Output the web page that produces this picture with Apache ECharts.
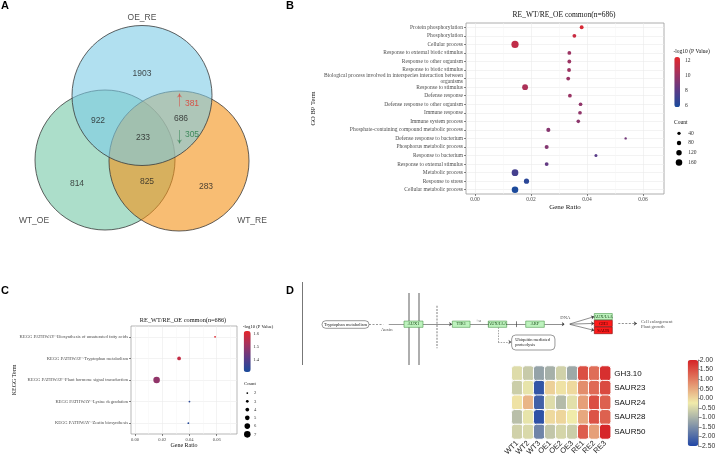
<!DOCTYPE html>
<html><head><meta charset="utf-8">
<script src="https://cdn.jsdelivr.net/npm/echarts@6/dist/echarts.min.js"></script>
<style>html,body{margin:0;padding:0;background:#fff}#c{width:717px;height:458px}</style>
</head><body><div id="c"></div>
<script>
// ================= DATA =================
// Panel A (Venn)
const vennSetNames = ['WT_OE', 'WT_RE', 'OE_RE'];
const vennRegionCounts = [1903, 922, 233, 686, 814, 825, 283];
const vennUpDown = [381, 305];

// Panel B (GO BP)
const goTitle = 'RE_WT/RE_OE common(n=686)';
const goTerms = ['Protein phosphorylation','Phosphorylation','Cellular process','Response to external biotic stimulus','Response to other organism','Response to biotic stimulus','Biological process involved in interspecies interaction between organisms','Response to stimulus','Defense response','Defense response to other organism','Immune response','Immune system process','Phosphate-containing compound metabolic process','Defense response to bacterium','Phosphorus metabolic process','Response to bacterium','Response to external stimulus','Metabolic process','Response to stress','Cellular metabolic process'];
const goGeneRatio = [0.0381,0.0355,0.0143,0.0337,0.0337,0.0336,0.0333,0.0179,0.0339,0.0377,0.0375,0.0369,0.0262,0.0538,0.0256,0.0432,0.0256,0.0143,0.0184,0.0143];
const goCount = [62,58,185,60,60,60,60,135,58,55,55,52,70,6,68,30,62,168,110,160];
const goLog10P = [12.1,11.6,11.3,10.1,10.1,10.1,10.0,10.6,10.0,9.7,9.7,9.6,9.4,8.8,9.3,8.0,8.3,7.3,6.4,5.9];
const goCountLegend = [40, 80, 120, 160];
const goColorTicks = [6, 8, 10, 12];

// Panel C (KEGG)
const keggTerms = ['KEGG PATHWAY~Biosynthesis of unsaturated fatty acids','KEGG PATHWAY~Tryptophan metabolism','KEGG PATHWAY~Plant hormone signal transduction','KEGG PATHWAY~Lysine degradation','KEGG PATHWAY~Zeatin biosynthesis'];
const keggGeneRatio = [0.0588, 0.0324, 0.0159, 0.0400, 0.0392];
const keggCount = [2, 4, 7, 2, 2];
const keggLog10P = [1.61, 1.57, 1.49, 1.33, 1.32];
const keggCountLegend = [2, 3, 4, 5, 6, 7];
const keggColorTicks = [1.4, 1.5, 1.6];
const ratioTicks = [0, 0.02, 0.04, 0.06];

// Panel D (pathway + heatmap)
const pathNodeNames = ['Tryptophan metabolism','AUX1','TIR1','AUX/IAA','ARF','AUX/IAA','GH3','SAUR','Ubiquitin mediated\nproteolysis'];
const pathNodeState = ['map','gene','gene','gene','gene','gene','up','up','map'];
const pathTexts = ['Auxin', '+u', 'DNA', 'Cell enlargement', 'Plant growth'];
const heatSamples = ['WT1','WT2','WT3','OE1','OE2','OE3','RE1','RE2','RE3'];
const heatGenes = ['GH3.10','SAUR23','SAUR24','SAUR28','SAUR50'];
const heatValues = [
  [-0.45,-0.7,-1.25,-1.05,-0.6,-1.15,1.5,1.15,1.85],
  [-0.65,-0.35,-2.3,0.05,-0.15,-0.05,0.8,1.2,1.55],
  [-0.15,0.35,-2.15,-0.45,-0.9,-0.4,0.6,1.5,1.3],
  [-0.85,-0.35,-2.35,-0.05,0.0,-0.25,0.5,1.45,1.3],
  [-0.6,-0.5,-1.65,-0.75,-0.55,-0.65,1.35,0.6,1.95]
];
const heatRange = [-2.5, 2.0];

// ================= LAYOUT / STYLE =================
const SERIF = "'Liberation Serif','DejaVu Serif',serif";
const SANS = "'Liberation Sans',Arial,sans-serif";
const vennCircleLayout = [[105,160],[179,161],[142,95.5]];
const vennCircleColor = ['rgba(112,199,164,0.58)','rgba(243,145,22,0.6)','rgba(125,203,230,0.6)'];
const vennSetLabelPos = [[34,221],[252,221],[142,18]];
const vennRegionPos = [[142,74],[98,121],[143,137.5],[181,119],[77,184],[147,182],[206,187]];
const vennUpDownPos = [[192,104],[192,134.5]];
const vennUpDownColor = ['#e0352c','#237a45'];
const vennArrowPos = [[[179.5,106.5],[179.5,93.5]],[[179.5,130],[179.5,143.5]]];

const pathNodeLayout = [[45.5,44.5,47,7.6],[113.5,44.2,19,6.3],[161.2,44.2,17.7,6.3],[197.5,44.2,18.4,6.3],[235,44.2,18.6,6.3],[303.3,36.6,18,6.2],[303.3,43.4,18,6.2],[303.3,50.4,18,6.6],[233.3,62.5,43.3,15]];
const pathTextLayout = [[86.7,50,'center'],[178.3,40.8,'center'],[265.3,37.6,'center'],[341,41.6,'left'],[341,46.4,'left']];
const pathLinkLayout = [
  {c:[[2,2],[2,85]], color:'#777', w:1},
  {c:[[109,13],[109,85]], color:'#9a9a9a', w:1.6},
  {c:[[119,13],[119,85]], color:'#9a9a9a', w:1.6},
  {c:[[136.7,25.7],[136.7,68.3]], color:'#b0b0b0', w:1.6, dash:[2,1.2]},
  {c:[[69,44.5],[84,44.5]], color:'#555', w:0.6, dash:[2,1.5]},
  {c:[[88,44.4],[104,44.4]], color:'#555', w:0.6},
  {c:[[123,44.2],[152.3,44.2]], color:'#444', w:0.6, arrow:true},
  {c:[[170,44.2],[188.3,44.2]], color:'#444', w:0.6},
  {c:[[187.8,41.3],[187.8,47.1]], color:'#444', w:0.7},
  {c:[[206.7,44.2],[225.7,44.2]], color:'#444', w:0.6},
  {c:[[216.7,41.3],[216.7,47.1]], color:'#444', w:0.7},
  {c:[[244.3,44.2],[265,44.2]], color:'#444', w:0.6, arrow:true},
  {c:[[269,44.2],[294.3,36.6]], color:'#444', w:0.6, arrow:true},
  {c:[[269,44.2],[294.3,43.4]], color:'#444', w:0.6, arrow:true},
  {c:[[269,44.2],[294.3,50.4]], color:'#444', w:0.6, arrow:true},
  {c:[[318.3,43.5],[337,43.5]], color:'#444', w:0.6, dash:[2,1.5], arrow:true},
  {c:[[198,47.4],[198,62]], color:'#666', w:0.6, dash:[1.5,1.2]},
  {c:[[198,62],[211.6,62]], color:'#666', w:0.6, dash:[1.5,1.2], arrow:true}
];
const pathCircleLayout = [[86,44.4],[267,44.2]];
const nodeStyle = {
  map:{fill:'#fff', stroke:'#555', text:'#222'},
  gene:{fill:'#bdf2bd', stroke:'#4f9a4f', text:'#1d4d1d'},
  up:{fill:'#ff1a1a', stroke:'#7a0000', text:'#3a0000'}
};

const goPalette = ['#1a4b9c','#5b3b87','#a3335f','#e5262b'];
const heatPalette = ['#2146a6','#f0ebaa','#d52226'];
const sizeGO = c => 2.2 + 0.027 * c;
const sizeKEGG = c => 0.95 * c - 0.1;

function wrap(s, n) {
  if (s.length <= n) return s;
  const i = s.lastIndexOf(' ', n);
  return s.slice(0, i) + '\n' + s.slice(i + 1);
}

// ================= CHART =================
const chart = echarts.init(document.getElementById('c'), null, {renderer:'canvas', width:717, height:458});

const G = (o) => Object.assign({outerBoundsMode:'none', containLabel:false}, o);
const hidden = (gi, min, max, inv) => ({type:'value', gridIndex:gi, min:min, max:max, show:false, inverse:!!inv, axisLine:{show:false, onZero:false}, splitLine:{show:false}});

const grids = [
  G({left:0, top:0, width:280, height:240}),                 // 0 venn
  G({left:466, top:23, width:198, height:171, show:true, borderColor:'#9a9a9a', borderWidth:0.8}), // 1 GO
  G({left:674.3, top:57, width:5.7, height:50}),             // 2 GO colorbar
  G({left:674, top:128.5, width:10, height:38.8}),           // 3 GO count legend
  G({left:131, top:326, width:106, height:108, show:true, borderColor:'#9a9a9a', borderWidth:0.7}), // 4 KEGG
  G({left:243.7, top:331, width:7, height:41}),              // 5 KEGG colorbar
  G({left:243, top:388.9, width:8.6, height:49.6}),          // 6 KEGG count legend
  G({left:300, top:280, width:380, height:90}),              // 7 pathway
  G({left:511.7, top:366, width:99, height:73}),             // 8 heatmap
  G({left:687.7, top:360, width:10.6, height:86})            // 9 heat colorbar
];

const ratioAxis = (gi, min, max, fs, nameGap, nameFs) => ({
  type:'value', gridIndex:gi, min:min, max:max, splitNumber:4,
  axisLine:{show:false, onZero:false},
  axisTick:{show:true, customValues:ratioTicks, length:2, lineStyle:{color:'#333', width:0.6}},
  axisLabel:{customValues:ratioTicks, formatter:v=>v.toFixed(2), fontSize:fs, color:'#4d4d4d', fontFamily:SERIF, margin:3},
  splitLine:{show:true, lineStyle:{color:'#ebebeb', width:0.6}},
  minorTick:{show:false, splitNumber:2},
  minorSplitLine:{show:true, lineStyle:{color:'#f4f4f4', width:0.5}},
  name:'Gene Ratio', nameLocation:'middle', nameGap:nameGap, nameMoveOverlap:false,
  nameTextStyle:{fontSize:nameFs, fontFamily:SERIF, color:'#111'}
});
const termAxis = (gi, data, fs, name, nameGap, nameFs, wrapN) => ({
  type:'category', gridIndex:gi, data:data, inverse:true,
  axisLine:{show:false, onZero:false},
  axisTick:{show:true, alignWithLabel:true, length:2, lineStyle:{color:'#333', width:0.6}},
  axisLabel:{interval:0, fontSize:fs, color:'#4d4d4d', fontFamily:SERIF, margin:3, lineHeight:fs*1.05, formatter:v=>wrap(v, wrapN)},
  splitLine:{show:true, alignWithLabel:true, interval:0, lineStyle:{color:'#ebebeb', width:0.6}},
  name:name, nameLocation:'middle', nameGap:nameGap, nameRotate:90, nameMoveOverlap:false,
  nameTextStyle:{fontSize:nameFs, fontFamily:SERIF, color:'#111'}
});
const barAxis = (gi, min, max, ticks, fs, margin) => ({
  type:'value', gridIndex:gi, min:min, max:max, position:'right',
  axisLine:{show:false, onZero:false}, axisTick:{show:false}, splitLine:{show:false},
  axisLabel:{customValues:ticks, fontSize:fs, color:'#333', fontFamily:SERIF, margin:margin}
});
const legendAxis = (gi, labels, fs, margin) => ({
  type:'category', gridIndex:gi, data:labels.map(String), inverse:true, position:'right',
  axisLine:{show:false, onZero:false}, axisTick:{show:false}, splitLine:{show:false},
  axisLabel:{interval:0, fontSize:fs, color:'#333', fontFamily:SERIF, margin:margin}
});

const xAxes = [
  hidden(0, 0, 280),
  ratioAxis(1, -0.0032, 0.0675, 5.5, 10, 7),
  hidden(2, 0, 1),
  hidden(3, -1, 1),
  ratioAxis(4, -0.0029, 0.0749, 4.6, 8.5, 6),
  hidden(5, 0, 1),
  hidden(6, -1, 1),
  hidden(7, 0, 380),
  {type:'category', gridIndex:8, data:heatSamples, axisLine:{show:false, onZero:false}, axisTick:{show:false}, splitLine:{show:false},
   axisLabel:{interval:0, rotate:45, fontSize:7.5, color:'#222', fontFamily:SANS, margin:3}},
  hidden(9, 0, 1)
];
const yAxes = [
  hidden(0, 0, 240, true),
  termAxis(1, goTerms, 5.5, 'GO BP Term', 149, 6.5, 64),
  barAxis(2, 5.83, 12.54, goColorTicks, 5.5, 5),
  legendAxis(3, goCountLegend, 5.5, 4.3),
  termAxis(4, keggTerms, 4.6, 'KEGG Term', 114, 6, 80),
  barAxis(5, 1.304, 1.623, keggColorTicks, 4.6, 2.6),
  legendAxis(6, keggCountLegend, 4.6, 2.4),
  hidden(7, 0, 90, true),
  {type:'category', gridIndex:8, data:heatGenes, inverse:true, position:'right', axisLine:{show:false, onZero:false}, axisTick:{show:false}, splitLine:{show:false},
   axisLabel:{interval:0, fontSize:8, color:'#111', fontFamily:SANS, margin:3.5}},
  {type:'value', gridIndex:9, min:heatRange[0], max:heatRange[1], interval:0.5, position:'right',
   axisLine:{show:true, onZero:false, lineStyle:{color:'#555', width:0.6}},
   axisTick:{show:true, length:2, lineStyle:{color:'#555', width:0.6}},
   splitLine:{show:false},
   axisLabel:{formatter:v=>v.toFixed(2), fontSize:6.8, color:'#333', fontFamily:SANS, margin:1.5}}
];

const series = [];
// 0 venn circles
series.push({type:'scatter', xAxisIndex:0, yAxisIndex:0, symbol:'circle', symbolSize:140, silent:true, z:2,
  data: vennSetNames.map((n,i)=>({name:n, value:vennCircleLayout[i], itemStyle:{color:vennCircleColor[i], borderColor:'#3a3a3a', borderWidth:0.8, opacity:1}}))});
// 1 venn labels
const vennLabelData = [];
vennSetNames.forEach((n,i)=>vennLabelData.push({name:n, value:vennSetLabelPos[i]}));
vennRegionCounts.forEach((v,i)=>vennLabelData.push({name:String(v), value:vennRegionPos[i]}));
vennUpDown.forEach((v,i)=>vennLabelData.push({name:String(v), value:vennUpDownPos[i], label:{color:vennUpDownColor[i]}}));
series.push({type:'scatter', xAxisIndex:0, yAxisIndex:0, symbolSize:0, silent:true, z:5, data:vennLabelData,
  itemStyle:{color:'transparent'},
  label:{show:true, position:'inside', formatter:p=>p.name, fontSize:8.5, fontFamily:SANS, color:'#222'}});
// 2 venn arrows
series.push({type:'lines', coordinateSystem:'cartesian2d', xAxisIndex:0, yAxisIndex:0, silent:true, z:6,
  symbol:['none','arrow'], symbolSize:4,
  data: vennArrowPos.map((c,i)=>({coords:c, lineStyle:{color:vennUpDownColor[i], width:0.9}}))});
// 3 GO scatter
series.push({type:'scatter', xAxisIndex:1, yAxisIndex:1, silent:true, z:5,
  data: goTerms.map((t,i)=>[goGeneRatio[i], i, goLog10P[i], goCount[i]]),
  symbolSize: v=>sizeGO(v[3]), itemStyle:{opacity:1}});
// 4 GO colorbar axis holder
series.push({type:'scatter', xAxisIndex:2, yAxisIndex:2, data:[]});
// 5 GO count legend
series.push({type:'scatter', xAxisIndex:3, yAxisIndex:3, silent:true,
  data: goCountLegend.map((c,i)=>[0, i, c]), symbolSize: v=>sizeGO(v[2]), itemStyle:{color:'#000', opacity:1}});
// 6 KEGG scatter
series.push({type:'scatter', xAxisIndex:4, yAxisIndex:4, silent:true, z:5,
  data: keggTerms.map((t,i)=>[keggGeneRatio[i], i, keggLog10P[i], keggCount[i]]),
  symbolSize: v=>sizeKEGG(v[3]), itemStyle:{opacity:1}});
// 7 KEGG colorbar axis holder
series.push({type:'scatter', xAxisIndex:5, yAxisIndex:5, data:[]});
// 8 KEGG count legend
series.push({type:'scatter', xAxisIndex:6, yAxisIndex:6, silent:true,
  data: keggCountLegend.map((c,i)=>[0, i, c]), symbolSize: v=>sizeKEGG(v[2]), itemStyle:{color:'#000', opacity:1}});
// 9 pathway links
series.push({type:'lines', coordinateSystem:'cartesian2d', xAxisIndex:7, yAxisIndex:7, silent:true, z:2,
  data: pathLinkLayout.map(l=>({coords:l.c, symbol:l.arrow?['none','arrow']:['none','none'], symbolSize:3.2,
    lineStyle:{color:l.color, width:l.w, type:l.dash||'solid', opacity:1}}))});
// 10 pathway nodes
series.push({type:'custom', coordinateSystem:'cartesian2d', xAxisIndex:7, yAxisIndex:7, silent:true, z:4,
  data: pathNodeNames.map((n,i)=>[pathNodeLayout[i][0], pathNodeLayout[i][1]]),
  renderItem:(params, api)=>{
    const i = params.dataIndex, L = pathNodeLayout[i], st = nodeStyle[pathNodeState[i]];
    const c = api.coord([L[0], L[1]]); const s = api.size([L[2], L[3]]);
    const rounded = pathNodeState[i] === 'map';
    const multi = pathNodeNames[i].indexOf('\n') >= 0;
    return {type:'group', children:[
      {type:'rect', shape:{x:c[0]-s[0]/2, y:c[1]-s[1]/2, width:s[0], height:s[1], r: rounded ? Math.min(s[1]/2, 4) : 0},
       style:{fill:st.fill, stroke:st.stroke, lineWidth:0.6}},
      {type:'text', style:{text:pathNodeNames[i], x: multi ? c[0]-s[0]/2+3.5 : c[0], y:c[1],
        align: multi ? 'left' : 'center', verticalAlign:'middle', fontSize:4.5, fontFamily:SERIF, fill:st.text, lineHeight:4.8}}
    ]};
  }});
// 11 pathway circles
series.push({type:'scatter', xAxisIndex:7, yAxisIndex:7, silent:true, z:5, symbol:'emptyCircle', symbolSize:3.6,
  itemStyle:{color:'#fff', borderColor:'#333', borderWidth:0.6, opacity:1}, data: pathCircleLayout});
// 12 pathway texts
series.push({type:'scatter', xAxisIndex:7, yAxisIndex:7, silent:true, z:5, symbolSize:0, itemStyle:{color:'transparent'},
  data: pathTexts.map((t,i)=>({name:t, value:[pathTextLayout[i][0], pathTextLayout[i][1]], label:{align:pathTextLayout[i][2]}})),
  label:{show:true, position:'inside', formatter:p=>p.name, fontSize:4.6, fontFamily:SERIF, color:'#222'}});
// 13 heatmap
const heatData = [];
heatValues.forEach((row, r)=>row.forEach((v, c)=>heatData.push([c, r, v])));
series.push({type:'heatmap', xAxisIndex:8, yAxisIndex:8, data:heatData, silent:true,
  itemStyle:{borderColor:'#fff', borderWidth:1, borderRadius:3}});
// 14 heat colorbar holder
series.push({type:'scatter', xAxisIndex:9, yAxisIndex:9, data:[]});

const vm = (si, min, max, colors, left, top, w, h) => ({
  type:'continuous', seriesIndex:si, dimension:2, min:min, max:max, calculable:false,
  inRange:{color:colors}, left:left, top:top, itemWidth:w, itemHeight:h, padding:0, orient:'vertical',
  hoverLink:false, textStyle:{fontSize:0}
});

const T = (text, left, top, fs, opts) => Object.assign({text:text, left:left, top:top, padding:0,
  textStyle:Object.assign({fontSize:fs, fontFamily:SERIF, fontWeight:'normal', color:'#111'}, (opts&&opts.ts)||{})}, (opts&&opts.o)||{});

const titles = [
  T('A', 1, 0.5, 11, {ts:{fontFamily:SANS, fontWeight:'bold', color:'#000'}}),
  T('B', 286, 0.5, 11, {ts:{fontFamily:SANS, fontWeight:'bold', color:'#000'}}),
  T('C', 1, 285.5, 11, {ts:{fontFamily:SANS, fontWeight:'bold', color:'#000'}}),
  T('D', 286, 285.5, 11, {ts:{fontFamily:SANS, fontWeight:'bold', color:'#000'}}),
  T(goTitle, 564, 11, 7.5, {o:{textAlign:'center'}}),
  T('-log10 (P Value)', 673.5, 49, 5.5),
  T('Count', 674, 120, 5.5),
  T(goTitle, 183, 317, 6.3, {o:{textAlign:'center'}}),
  T('-log10 (P Value)', 243, 324.5, 4.6),
  T('Count', 244, 381.5, 4.8)
];

chart.setOption({
  animation:false,
  backgroundColor:'#fff',
  title: titles,
  grid: grids,
  xAxis: xAxes,
  yAxis: yAxes,
  visualMap: [
    vm(3, 5.83, 12.54, goPalette, 674.3, 57, 5.7, 50),
    vm(6, 1.304, 1.623, goPalette, 243.7, 331, 7, 41),
    vm(13, heatRange[0], heatRange[1], heatPalette, 687.7, 360, 10.6, 86)
  ],
  series: series
});
</script>
</body></html>
